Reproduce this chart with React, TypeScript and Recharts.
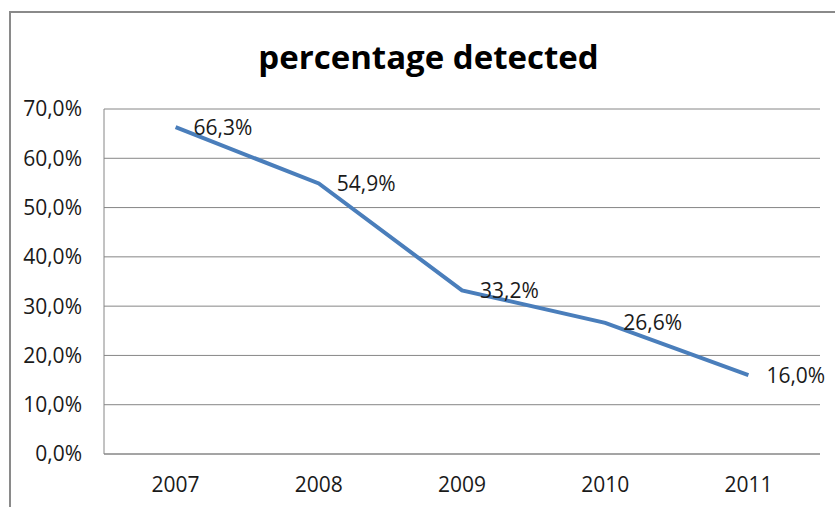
import { LineChart, Line, XAxis, YAxis, CartesianGrid, LabelList } from "recharts";

const years = ["2007", "2008", "2009", "2010", "2011"];
const detected = [66.3, 54.9, 33.2, 26.6, 16.0];
const yTicks = [0, 10, 20, 30, 40, 50, 60, 70];

const data = years.map((year, i) => ({ year, value: detected[i] }));

const pct = (v: number) => `${Number(v).toFixed(1).replace(".", ",")}%`;

const FONT = "'Open Sans', 'DejaVu Sans', sans-serif";
const GRID = "#868686";
const TXT = 21;

const App = () => {
  return (
    <div
      style={{
        position: "fixed",
        left: 0,
        top: 0,
        width: 835,
        height: 507,
        background: "#fff",
        overflow: "hidden",
        fontFamily: FONT,
      }}
    >
      {/* outer chart frame, runs off the right and bottom edge */}
      <div
        style={{
          position: "absolute",
          left: 9,
          top: 11,
          width: 900,
          height: 600,
          border: "2px solid #8a8a8a",
        }}
      />
      <div
        style={{
          position: "absolute",
          left: 0,
          top: 40,
          width: 857,
          textAlign: "center",
          fontSize: 33,
          lineHeight: "33px",
          fontWeight: 700,
          color: "#000",
        }}
      >
        percentage detected
      </div>
      <LineChart
        width={835}
        height={507}
        data={data}
        margin={{ top: 109, right: 15, bottom: 23, left: 14 }}
        style={{ position: "absolute", left: 0, top: 0 }}
      >
        <CartesianGrid vertical={false} stroke={GRID} strokeWidth={1} />
        <XAxis
          dataKey="year"
          height={30}
          padding={{ left: 71.6, right: 71.6 }}
          tickSize={0}
          tickMargin={23}
          axisLine={{ stroke: GRID }}
          tick={{ fill: "#1a1a1a", fontSize: TXT, fontFamily: FONT }}
        />
        <YAxis
          width={90}
          domain={[0, 70]}
          ticks={yTicks}
          tickFormatter={pct}
          tickSize={0}
          tickMargin={22}
          axisLine={{ stroke: GRID }}
          tick={{ fill: "#1a1a1a", fontSize: TXT, fontFamily: FONT }}
        />
        <Line
          type="linear"
          dataKey="value"
          stroke="#4A7EBB"
          strokeWidth={4}
          dot={false}
          isAnimationActive={false}
        >
          <LabelList
            dataKey="value"
            position="right"
            offset={18}
            formatter={(v: any) => pct(v)}
            style={{ fill: "#1a1a1a", fontSize: TXT, fontFamily: FONT }}
          />
        </Line>
      </LineChart>
    </div>
  );
};

export default App;
